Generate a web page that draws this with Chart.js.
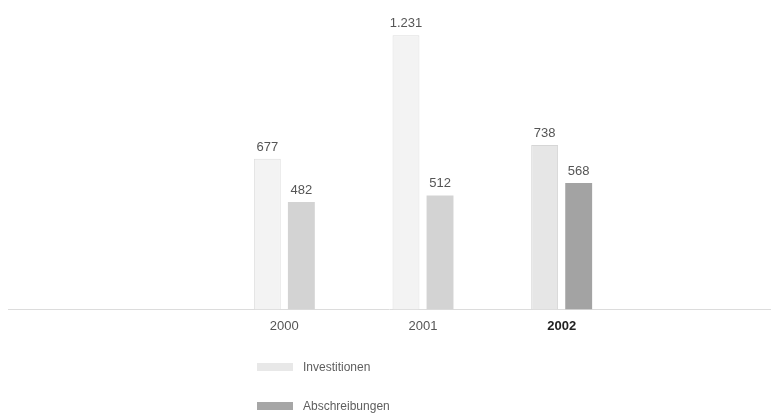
<!DOCTYPE html>
<html>
<head>
<meta charset="utf-8">
<script src="https://cdn.jsdelivr.net/npm/chart.js@4.4.1/dist/chart.umd.min.js"></script>
<style>
  html, body { margin: 0; padding: 0; background: #ffffff; }
  #wrap { position: relative; width: 771px; height: 418px; }
  #chart { position: absolute; left: 0; top: 0; }
  .legend { position: absolute; left: 257px; font-family: "Liberation Sans", Arial, sans-serif; font-size: 12px; color: #5e5e5e; }
  .legend .item { position: absolute; left: 0; white-space: nowrap; display: flex; align-items: center; }
  .legend .sw { display: inline-block; width: 36px; height: 8px; margin-right: 10px; }
</style>
</head>
<body>
<div id="wrap">
  <canvas id="chart" width="771" height="418"></canvas>
  <div class="legend" id="legend"></div>
</div>
<script>
// Years and values (in Mio. EUR)
const years = ['2000', '2001', '2002'];
const investitionen = [677, 1231, 738];
const abschreibungen = [482, 512, 568];
const seriesNames = ['Investitionen', 'Abschreibungen'];

const fmt = v => v.toLocaleString('de-DE');

// Value labels above each bar
const valueLabels = {
  id: 'valueLabels',
  afterDatasetsDraw(chart) {
    const ctx = chart.ctx;
    ctx.save();
    ctx.font = '13px "Liberation Sans", Arial, sans-serif';
    ctx.fillStyle = '#555555';
    ctx.textAlign = 'center';
    ctx.textBaseline = 'bottom';
    chart.data.datasets.forEach((ds, i) => {
      chart.getDatasetMeta(i).data.forEach((bar, j) => {
        ctx.fillText(fmt(ds.data[j]), bar.x, bar.y - 5);
      });
    });
    ctx.restore();
  }
};

// Baseline running across the full width
const baseline = {
  id: 'baseline',
  beforeDatasetsDraw(chart) {
    const ctx = chart.ctx;
    const y = Math.round(chart.scales.y.getPixelForValue(0)) + 0.5;
    ctx.save();
    ctx.strokeStyle = '#dcdcdc';
    ctx.lineWidth = 1;
    ctx.beginPath();
    ctx.moveTo(8, y);
    ctx.lineTo(chart.width, y);
    ctx.stroke();
    ctx.restore();
  }
};

new Chart(document.getElementById('chart'), {
  type: 'bar',
  data: {
    labels: years,
    datasets: [
      {
        label: seriesNames[0],
        data: investitionen,
        backgroundColor: ['#f3f3f3', '#f3f3f3', '#e6e6e6'],
        borderColor: ['#dedede', '#dedede', '#d6d6d6'],
        borderWidth: 1,
        borderSkipped: 'bottom'
      },
      {
        label: seriesNames[1],
        data: abschreibungen,
        backgroundColor: ['#d3d3d3', '#d3d3d3', '#a3a3a3'],
        borderWidth: 0
      }
    ]
  },
  options: {
    responsive: false,
    animation: false,
    events: [],
    categoryPercentage: 0.491,
    barPercentage: 0.79,
    layout: { padding: { left: 215, right: 140, top: 20, bottom: 83 } },
    plugins: { legend: { display: false }, tooltip: { enabled: false } },
    scales: {
      x: {
        grid: { display: false },
        border: { display: false },
        ticks: {
          padding: 1,
          color: ctx => ctx.index === 2 ? '#222222' : '#555555',
          font: ctx => ({
            family: '"Liberation Sans", Arial, sans-serif',
            size: 13,
            weight: ctx.index === 2 ? 'bold' : 'normal'
          })
        }
      },
      y: {
        display: false,
        min: 0,
        max: 1300
      }
    }
  },
  plugins: [baseline, valueLabels]
});

// Legend stacked below the axis
const legendColors = ['#e8e8e8', '#a6a6a6'];
const legendTops = [360, 399];
const legendEl = document.getElementById('legend');
seriesNames.forEach((name, i) => {
  const item = document.createElement('div');
  item.className = 'item';
  item.style.top = legendTops[i] + 'px';
  const sw = document.createElement('span');
  sw.className = 'sw';
  sw.style.background = legendColors[i];
  const t = document.createElement('span');
  t.textContent = name;
  item.appendChild(sw);
  item.appendChild(t);
  legendEl.appendChild(item);
});
</script>
</body>
</html>
